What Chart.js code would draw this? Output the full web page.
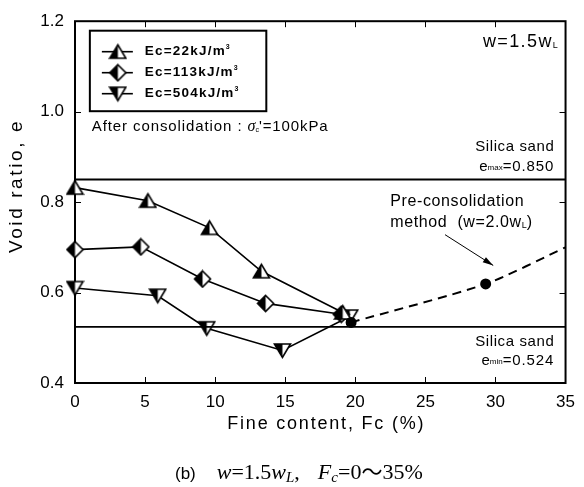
<!DOCTYPE html>
<html>
<head>
<meta charset="utf-8">
<script src="https://cdn.jsdelivr.net/npm/chart.js@4"></script>
<style>
  html, body { margin: 0; padding: 0; background: #fff; }
  #box { width: 584px; height: 487px; }
</style>
</head>
<body>
<div id="box"><canvas id="grafico" width="584" height="487"></canvas></div>
<script>
// Fine content (%) and void ratio for each compaction energy
var fc22 = [0, 5.2, 9.6, 13.3, 19.1];
var e22 = [0.832, 0.803, 0.743, 0.647, 0.556];
var fc113 = [0, 4.7, 9.1, 13.6, 19.0];
var e113 = [0.695, 0.701, 0.630, 0.576, 0.552];
var fc504 = [0, 5.9, 9.4, 14.8, 19.6];
var e504 = [0.610, 0.593, 0.521, 0.472, 0.547];

// Pre-consolidation method (w=2.0wL), last point only carries the dashed line
var fcPre = [19.7, 29.3, 35];
var ePre = [0.534, 0.619, 0.700];

// Silica sand limits
var eMax = 0.850;
var eMin = 0.524;

var legendLabels = ['Ec=22kJ/m', 'Ec=113kJ/m', 'Ec=504kJ/m'];
var xTicks = [0, 5, 10, 15, 20, 25, 30, 35];
var yTicks = [0.4, 0.6, 0.8, 1.0, 1.2];

function pares(xs, ys) {
    return xs.map(function (x, i) { return { x: x, y: ys[i] }; });
}

// half black / half white marker
function marcador(forma) {
    var c = document.createElement('canvas');
    c.width = 19; c.height = 19;
    var g = c.getContext('2d');
    g.beginPath();
    if (forma === 'up') {
        g.moveTo(1.5, 16); g.lineTo(9.5, 2.5); g.lineTo(17.5, 16);
    } else if (forma === 'down') {
        g.moveTo(1.5, 3); g.lineTo(9.5, 16.5); g.lineTo(17.5, 3);
    } else {
        g.moveTo(9.5, 1.5); g.lineTo(17.5, 9.5); g.lineTo(9.5, 17.5); g.lineTo(1.5, 9.5);
    }
    g.closePath();
    g.fillStyle = '#fff';
    g.fill();
    g.save();
    g.clip();
    g.fillStyle = '#000';
    g.fillRect(0, 0, 9.5, 19);
    g.restore();
    g.lineWidth = 1.6;
    g.strokeStyle = '#000';
    g.lineJoin = 'miter';
    g.stroke();
    return c;
}

var mkUp = marcador('up');
var mkDiamond = marcador('diamond');
var mkDown = marcador('down');

var SANS = '"Liberation Sans", Arial, sans-serif';
var SERIF = '"Liberation Serif", "Times New Roman", serif';

// draws a run of text pieces one after another
function textoSeq(ctx, x, y, partes) {
    partes.forEach(function (p) {
        ctx.font = p.font;
        ctx.letterSpacing = p.ls || '0px';
        ctx.fillText(p.t, x, y + (p.dy || 0));
        x += ctx.measureText(p.t).width + (p.gap || 0);
    });
    ctx.letterSpacing = '0px';
    return x;
}

function larguraSeq(ctx, partes) {
    var w = 0;
    partes.forEach(function (p) {
        ctx.font = p.font;
        ctx.letterSpacing = p.ls || '0px';
        w += ctx.measureText(p.t).width + (p.gap || 0);
    });
    ctx.letterSpacing = '0px';
    return w;
}

var decoracao = {
    id: 'decoracao',
    beforeDatasetsDraw: function (chart) {
        var ctx = chart.ctx, a = chart.chartArea;
        var sx = chart.scales.x, sy = chart.scales.y;
        ctx.save();
        ctx.strokeStyle = '#000';
        ctx.lineWidth = 2;
        ctx.strokeRect(a.left, a.top, a.right - a.left, a.bottom - a.top);
        // inward ticks on all four sides
        ctx.lineWidth = 1;
        ctx.beginPath();
        xTicks.slice(1, -1).forEach(function (v) {
            var px = Math.round(sx.getPixelForValue(v)) + 0.5;
            ctx.moveTo(px, a.bottom); ctx.lineTo(px, a.bottom - 6);
            ctx.moveTo(px, a.top); ctx.lineTo(px, a.top + 6);
        });
        yTicks.slice(1, -1).forEach(function (v) {
            var py = Math.round(sy.getPixelForValue(v)) + 0.5;
            ctx.moveTo(a.left, py); ctx.lineTo(a.left + 6, py);
            ctx.moveTo(a.right, py); ctx.lineTo(a.right - 6, py);
        });
        ctx.stroke();
        ctx.restore();
    },
    afterDatasetsDraw: function (chart) {
        var ctx = chart.ctx;
        var sx = chart.scales.x, sy = chart.scales.y;
        var X = function (v) { return sx.getPixelForValue(v); };
        var Y = function (v) { return sy.getPixelForValue(v); };
        ctx.save();
        ctx.fillStyle = '#000';
        ctx.strokeStyle = '#000';
        ctx.textBaseline = 'middle';

        // legend box
        var bl = X(1.06), bt = Y(1.179), br = X(13.65), bb = Y(1.001);
        ctx.lineWidth = 2;
        ctx.fillStyle = '#fff';
        ctx.fillRect(bl, bt, br - bl, bb - bt);
        ctx.strokeRect(bl, bt, br - bl, bb - bt);
        ctx.fillStyle = '#000';
        var imgs = [mkUp, mkDiamond, mkDown];
        var linhas = [bt + 21, bt + 42, bt + 63];
        linhas.forEach(function (yy, i) {
            ctx.lineWidth = 1.6;
            ctx.beginPath();
            ctx.moveTo(bl + 12, yy);
            ctx.lineTo(bl + 43, yy);
            ctx.stroke();
            ctx.drawImage(imgs[i], bl + 28 - 9.5, yy - 9.5);
            ctx.textAlign = 'left';
            textoSeq(ctx, bl + 55, yy, [
                { t: legendLabels[i], font: 'bold 13.5px ' + SANS, ls: '1.2px' },
                { t: '3', font: 'bold 7px ' + SANS, dy: -5 }
            ]);
        });

        // w=1.5wL
        ctx.textAlign = 'left';
        var p1 = [
            { t: 'w=1.5w', font: '18px ' + SANS, ls: '1.4px' },
            { t: 'L', font: '9px ' + SANS, dy: 4 }
        ];
        textoSeq(ctx, X(34.45) - larguraSeq(ctx, p1), Y(1.155), p1);

        // consolidation stress
        textoSeq(ctx, X(1.2), Y(0.966), [
            { t: 'After consolidation : ', font: '15px ' + SANS, ls: '0.9px' },
            { t: 'σ', font: 'italic 16px ' + SERIF },
            { t: 'c', font: '7px ' + SANS, dy: 3 },
            { t: "'=100kPa", font: '15px ' + SANS, ls: '0.9px' }
        ]);

        // silica sand limits
        ctx.textAlign = 'left';
        var dir = X(34.2);
        var s1 = [{ t: 'Silica sand', font: '15px ' + SANS, ls: '0.6px' }];
        textoSeq(ctx, dir - larguraSeq(ctx, s1), Y(0.923), s1);
        var s2 = [
            { t: 'e', font: '15px ' + SANS },
            { t: 'max', font: '8px ' + SANS, dy: 1 },
            { t: '=0.850', font: '15px ' + SANS, ls: '0.9px' }
        ];
        textoSeq(ctx, dir - larguraSeq(ctx, s2), Y(0.877), s2);
        textoSeq(ctx, dir - larguraSeq(ctx, s1), Y(0.491), s1);
        var s3 = [
            { t: 'e', font: '15px ' + SANS },
            { t: 'min', font: '8px ' + SANS, dy: 1 },
            { t: '=0.524', font: '15px ' + SANS, ls: '0.9px' }
        ];
        textoSeq(ctx, dir - larguraSeq(ctx, s3), Y(0.45), s3);

        // pre-consolidation note and arrow
        textoSeq(ctx, X(22.5), Y(0.801), [{ t: 'Pre-consolidation', font: '16px ' + SANS, ls: '0.6px' }]);
        textoSeq(ctx, X(22.5), Y(0.754), [
            { t: 'method  (w=2.0w', font: '16px ' + SANS, ls: '0.6px' },
            { t: 'L', font: '9px ' + SANS, dy: 3 },
            { t: ')', font: '16px ' + SANS }
        ]);
        var ax0 = X(26.4), ay0 = Y(0.728), ax1 = X(29.84), ay1 = Y(0.660);
        ctx.lineWidth = 1;
        ctx.beginPath();
        ctx.moveTo(ax0, ay0);
        ctx.lineTo(ax1, ay1);
        ctx.stroke();
        var ang = Math.atan2(ay1 - ay0, ax1 - ax0);
        ctx.beginPath();
        ctx.moveTo(ax1, ay1);
        ctx.lineTo(ax1 - 11 * Math.cos(ang - 0.28), ay1 - 11 * Math.sin(ang - 0.28));
        ctx.lineTo(ax1 - 11 * Math.cos(ang + 0.28), ay1 - 11 * Math.sin(ang + 0.28));
        ctx.closePath();
        ctx.fill();
        ctx.restore();
    },
    afterDraw: function (chart) {
        var ctx = chart.ctx, a = chart.chartArea;
        ctx.save();
        ctx.fillStyle = '#000';
        ctx.textBaseline = 'middle';
        ctx.textAlign = 'center';

        // axis titles
        ctx.font = '18px ' + SANS;
        ctx.letterSpacing = '1.8px';
        ctx.fillText('Fine content, Fc (%)', (a.left + a.right) / 2 + 6, 424);
        ctx.translate(17, 186);
        ctx.rotate(-Math.PI / 2);
        ctx.font = '19px ' + SANS;
        ctx.letterSpacing = '2.6px';
        ctx.fillText('Void ratio, e', 0, 0);
        ctx.setTransform(1, 0, 0, 1, 0, 0);
        ctx.letterSpacing = '0px';

        // caption
        ctx.textAlign = 'left';
        ctx.textBaseline = 'alphabetic';
        var it = 'italic 22px ' + SERIF, rm = '22px ' + SERIF;
        var x = textoSeq(ctx, 175, 479, [{ t: '(b)', font: '17px ' + SANS, gap: 21 }]);
        x = textoSeq(ctx, x, 479, [
            { t: 'w', font: it },
            { t: '=', font: rm },
            { t: '1.5', font: rm },
            { t: 'w', font: it },
            { t: 'L', font: 'italic 15px ' + SERIF, dy: 3 },
            { t: ',', font: rm, gap: 18 },
            { t: 'F', font: it },
            { t: 'c', font: 'italic 15px ' + SERIF, dy: 3 },
            { t: '=0', font: rm },
            { t: '〜', font: '21px "Noto Sans CJK JP", ' + SERIF },
            { t: '35%', font: rm }
        ]);
        ctx.restore();
    }
};

var ctx = document.getElementById('grafico').getContext('2d');

var grafico = new Chart(ctx, {
    type: 'scatter',
    data: {
        datasets: [
            {
                label: 'emax',
                data: pares([0, 35], [eMax, eMax]),
                showLine: true, borderColor: '#000', borderWidth: 2, pointRadius: 0
            },
            {
                label: 'emin',
                data: pares([0, 35], [eMin, eMin]),
                showLine: true, borderColor: '#000', borderWidth: 1.6, pointRadius: 0
            },
            {
                label: 'Pre-consolidation',
                data: pares(fcPre, ePre),
                showLine: true, borderColor: '#000', borderWidth: 2, borderDash: [9, 6],
                tension: 0.25, clip: 12,
                pointRadius: [4.5, 4.5, 0], pointBackgroundColor: '#000', pointBorderColor: '#000'
            },
            {
                label: legendLabels[0],
                data: pares(fc22, e22),
                showLine: true, borderColor: '#000', borderWidth: 1.6, pointStyle: mkUp, clip: 12
            },
            {
                label: legendLabels[1],
                data: pares(fc113, e113),
                showLine: true, borderColor: '#000', borderWidth: 1.6, pointStyle: mkDiamond, clip: 12
            },
            {
                label: legendLabels[2],
                data: pares(fc504, e504),
                showLine: true, borderColor: '#000', borderWidth: 1.6, pointStyle: mkDown, clip: 12
            }
        ]
    },
    options: {
        responsive: false,
        animation: false,
        layout: { padding: { left: 0, right: 14, top: 14, bottom: 0 } },
        plugins: {
            legend: { display: false },
            tooltip: { enabled: false }
        },
        scales: {
            x: {
                type: 'linear', min: 0, max: 35,
                afterFit: function (s) { s.height = 104; },
                afterBuildTicks: function (s) { s.ticks = xTicks.map(function (v) { return { value: v }; }); },
                grid: { display: false, drawTicks: false },
                border: { display: false },
                ticks: { color: '#000', padding: 9, font: { family: SANS, size: 17 } }
            },
            y: {
                min: 0.4, max: 1.2,
                afterFit: function (s) { s.width = 75; },
                afterBuildTicks: function (s) { s.ticks = yTicks.map(function (v) { return { value: v }; }); },
                grid: { display: false, drawTicks: false },
                border: { display: false },
                ticks: {
                    color: '#000', padding: 11, font: { family: SANS, size: 17 },
                    callback: function (v) { return v.toFixed(1); }
                }
            }
        }
    },
    plugins: [decoracao]
});
</script>
</body>
</html>
